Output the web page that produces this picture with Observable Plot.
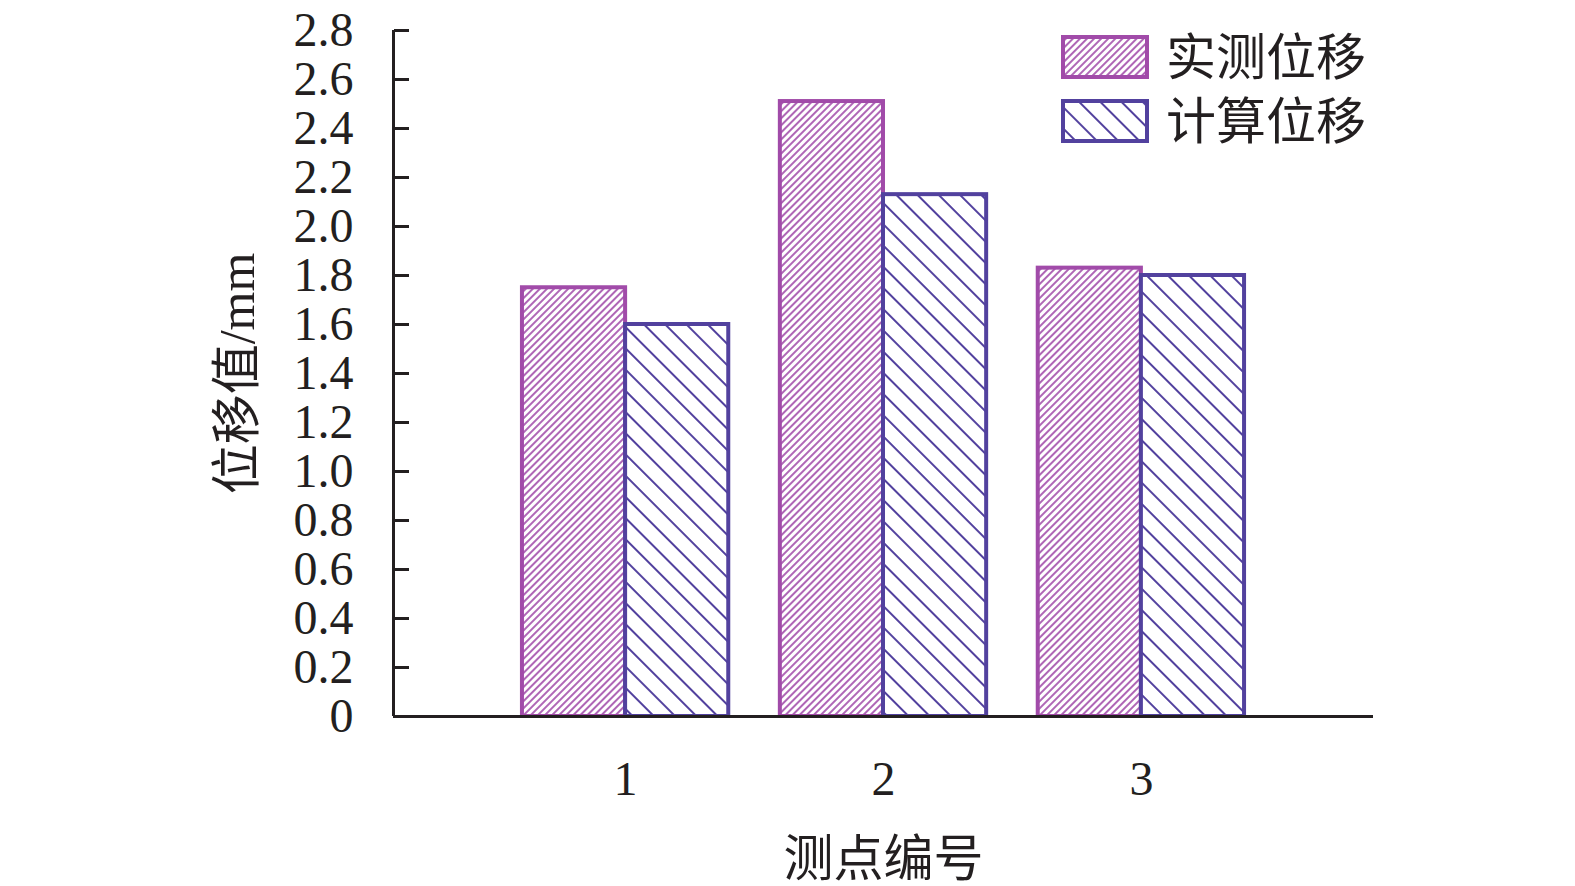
<!DOCTYPE html>
<html>
<head>
<meta charset="utf-8">
<script src="https://cdn.jsdelivr.net/npm/d3@7"></script>
<script src="https://cdn.jsdelivr.net/npm/@observablehq/plot@0.6"></script>
<style>
  html, body { margin: 0; padding: 0; background: #fff; }
  #chart { width: 1575px; height: 886px; }
</style>
</head>
<body>
<div id="chart"></div>
<script>
// ---- data ----
const categories = [1, 2, 3];
const seriesNames = ["实测位移", "计算位移"];
const measured = [1.75, 2.51, 1.83];
const computed = [1.60, 2.13, 1.80];
const yTicks = [0, 0.2, 0.4, 0.6, 0.8, 1.0, 1.2, 1.4, 1.6, 1.8, 2.0, 2.2, 2.4, 2.6, 2.8];
const xTitle = "测点编号";
const yTitle = "位移值/mm";

// ---- style ----
const colors = ["#A14BA9", "#52419E"];
const ink = "#231f20";
const fontFamily = "'Liberation Serif', 'Noto Sans CJK SC', serif";
const xDomain = [0.1, 3.9];
const barW = 0.4;

const dataA = categories.map((c, i) => ({cat: c, value: measured[i]}));
const dataB = categories.map((c, i) => ({cat: c, value: computed[i]}));

const chart = Plot.plot({
  width: 1575,
  height: 886,
  marginLeft: 393,
  marginRight: 202,
  marginTop: 30,
  marginBottom: 170,
  style: {fontFamily, fontSize: "48px", color: ink, background: "#fff"},
  x: {type: "linear", domain: xDomain},
  y: {domain: [0, 2.8]},
  marks: [
    Plot.rectY(dataA, {x1: d => d.cat - barW, x2: d => d.cat, y1: 0, y2: "value",
      fill: "url(#hatchA)", stroke: colors[0], strokeWidth: 4}),
    Plot.rectY(dataB, {x1: d => d.cat, x2: d => d.cat + barW, y1: 0, y2: "value",
      fill: "url(#hatchB)", stroke: colors[1], strokeWidth: 4}),
    Plot.axisY({ticks: yTicks, tickSize: 0, tickPadding: 40, label: null,
      tickFormat: d => d === 0 ? "0" : d.toFixed(1), fontSize: 48}),
    Plot.axisY({ticks: yTicks, anchor: "right", frameAnchor: "left", tickSize: 15,
      text: null, label: null, stroke: ink, strokeWidth: 3}),
    Plot.axisX({ticks: categories, tickSize: 0, tickPadding: 44, label: null,
      tickFormat: d => String(d), fontSize: 48}),
    Plot.ruleY([0], {stroke: ink, strokeWidth: 3}),
    Plot.ruleX([xDomain[0]], {stroke: ink, strokeWidth: 3}),
    Plot.text([xTitle], {frameAnchor: "bottom", lineAnchor: "middle", textAnchor: "middle",
      dy: 143, fontSize: 50, fill: ink}),
    Plot.text([yTitle], {frameAnchor: "left", lineAnchor: "middle", textAnchor: "middle",
      rotate: -90, dx: -156, fontSize: 50, fill: ink})
  ]
});

const svg = d3.select(chart);
const defs = svg.insert("defs", ":first-child");
// hatch A: "/" dense lines
const pA = defs.append("pattern").attr("id", "hatchA").attr("patternUnits", "userSpaceOnUse")
  .attr("width", 5).attr("height", 10).attr("patternTransform", "rotate(45)");
pA.append("rect").attr("width", 5).attr("height", 10).attr("fill", "#fff");
pA.append("line").attr("x1", 1).attr("x2", 1).attr("y1", 0).attr("y2", 10)
  .attr("stroke", colors[0]).attr("stroke-width", 1.7);
// hatch B: "\" sparse lines
const pB = defs.append("pattern").attr("id", "hatchB").attr("patternUnits", "userSpaceOnUse")
  .attr("width", 15).attr("height", 15).attr("patternTransform", "rotate(-45)");
pB.append("rect").attr("width", 15).attr("height", 15).attr("fill", "#fff");
pB.append("line").attr("x1", 1).attr("x2", 1).attr("y1", 0).attr("y2", 15)
  .attr("stroke", colors[1]).attr("stroke-width", 2);

// legend
const lg = svg.append("g").attr("class", "legend").attr("text-anchor", "start");
seriesNames.forEach((name, i) => {
  const y0 = 37 + i * 64;
  lg.append("rect").attr("x", 1063).attr("y", y0).attr("width", 84).attr("height", 40)
    .attr("fill", i === 0 ? "url(#hatchA)" : "url(#hatchB)")
    .attr("stroke", colors[i]).attr("stroke-width", 4);
  lg.append("text").attr("x", 1166).attr("y", y0 + 20).attr("dy", "0.35em")
    .attr("text-anchor", "start")
    .attr("font-size", 50).attr("font-family", fontFamily).attr("fill", ink)
    .text(name);
});

document.getElementById("chart").appendChild(chart);
</script>
</body>
</html>
